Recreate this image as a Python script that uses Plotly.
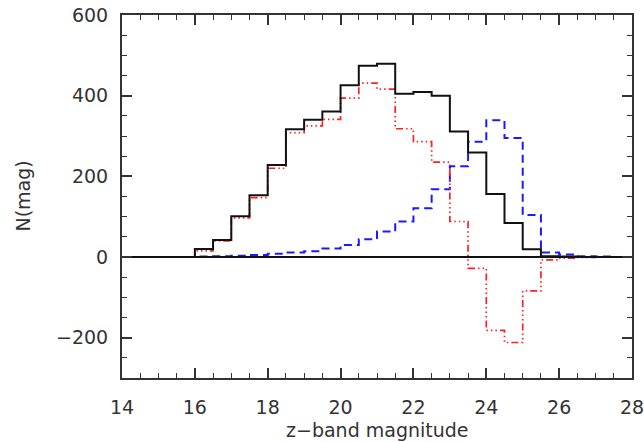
import plotly.graph_objects as go

# bin edges (z-band magnitude), 0.5 mag bins from 14 to 28
bin_start = 14.0
bin_width = 0.5
n_bins = 28
edges = [bin_start + i * bin_width for i in range(n_bins + 1)]

# black solid histogram
black_counts = [0, 0, 0, 0,
                20, 42, 101, 153, 228, 317, 340, 361, 426, 474,
                479, 405, 409, 400, 311, 259, 156, 84, 19, 2,
                1, 0, 0, 0]
# blue dashed histogram
blue_counts = [0, 0, 0, 0,
               1, 2, 3, 5, 8, 11, 14, 21, 30, 44,
               63, 88, 121, 168, 225, 286, 339, 295, 104, 11,
               6, 2, 1, 0]
# red dash-dot-dot-dot histogram
red_counts = [0, 0, 0, 0,
              15, 40, 97, 147, 220, 308, 325, 341, 394, 431,
              416, 318, 286, 235, 88, -28, -182, -212, -84, -7,
              -3, -1, 0, 0]

x_ticks = [14, 16, 18, 20, 22, 24, 26, 28]
y_ticks = [-200, 0, 200, 400, 600]


def step(vals):
    return list(vals) + [vals[-1]]


fig = go.Figure()
fig.add_trace(go.Scatter(x=edges, y=step(blue_counts), mode="lines", line_shape="hv",
                         line=dict(color="#1a1aff", width=2, dash="8px,5px")))
fig.add_trace(go.Scatter(x=edges, y=step(red_counts), mode="lines", line_shape="hv",
                         line=dict(color="#ff2020", width=1.7,
                                   dash="7px,3px,1.5px,3px,1.5px,3px,1.5px,3px")))
fig.add_trace(go.Scatter(x=edges, y=step(black_counts), mode="lines", line_shape="hv",
                         line=dict(color="#111111", width=2)))
fig.add_trace(go.Scatter(x=[edges[0], edges[-1]], y=[0, 0], mode="lines",
                         line=dict(color="#111111", width=2)))

font = dict(family="DejaVu Sans", size=19, color="#333333")

fig.update_layout(
    width=644, height=442,
    margin=dict(l=122, r=12, t=15, b=64),
    paper_bgcolor="white", plot_bgcolor="white",
    showlegend=False,
    font=font,
)
fig.update_xaxes(
    range=[14, 28], tickvals=x_ticks, ticktext=[str(v) for v in x_ticks],
    ticks="inside", ticklen=10, tickwidth=1.5, tickcolor="#333333",
    showline=True, linecolor="#333333", linewidth=2, mirror="allticks",
    showgrid=False, zeroline=False, ticklabelstandoff=11, automargin=False,
    ticklabeloverflow="allow",
    minor=dict(dtick=0.5, tick0=14, ticks="inside", ticklen=5, tickwidth=1.2,
               tickcolor="#333333", showgrid=False),
)
fig.update_yaxes(
    range=[-300, 600], tickvals=y_ticks,
    ticks="inside", ticklen=10, tickwidth=1.5, tickcolor="#333333",
    showline=True, linecolor="#333333", linewidth=2, mirror="allticks",
    showgrid=False, zeroline=False, ticklabelstandoff=8, automargin=False,
    ticklabeloverflow="allow",
    minor=dict(dtick=50, tick0=0, ticks="inside", ticklen=5, tickwidth=1.2,
               tickcolor="#333333", showgrid=False),
)

# axis titles placed as annotations (paper coordinates)
fig.add_annotation(text="z\u2212band magnitude", xref="paper", yref="paper",
                   x=0.5, y=-0.143, xanchor="center", yanchor="middle",
                   showarrow=False, font=font)
fig.add_annotation(text="N(mag)", xref="paper", yref="paper",
                   x=-0.196, y=0.5, xanchor="center", yanchor="middle",
                   textangle=-90, showarrow=False, font=font)

fig.write_html("out.html")
